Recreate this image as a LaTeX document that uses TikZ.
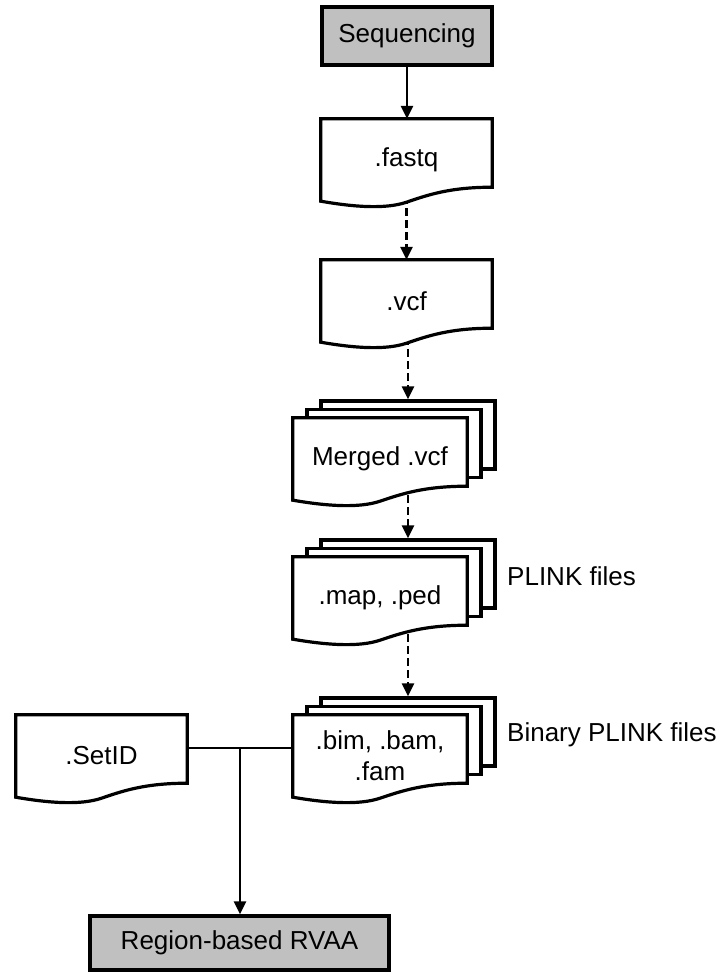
\documentclass[tikz,border=0pt]{standalone}
\usepackage{fontspec}
\setmainfont{Liberation Sans}
\usetikzlibrary{arrows.meta,calc}
\definecolor{boxgray}{RGB}{192,192,192}
\pgfdeclarelayer{conns}
\pgfdeclarelayer{shapes}
\pgfsetlayers{conns,shapes,main}
\tikzset{
  base/.style={font=\fontsize{26}{31}\selectfont, align=center, inner sep=0pt},
  procbox/.style={base, draw, line width=3.2pt, fill=boxgray, minimum height=58pt},
  doctext/.style={base, minimum width=171pt, minimum height=82pt},
  stacktext/.style={base, minimum width=174pt, minimum height=82pt},
  layerbox/.style={draw, line width=3.2pt, fill=white, minimum width=174pt, minimum height=68pt, inner sep=0pt},
  docline/.style={draw, line width=3.2pt, fill=white, line join=miter},
  plainline/.style={line width=2.6pt},
  conn/.style={plainline, -{Triangle[length=13pt,width=12pt]}},
  dconn/.style={conn, dash pattern=on 7.5pt off 4.5pt},
  sidelabel/.style={base, anchor=west},
}
\newcommand\docpath[1]{%
  \path[docline] (#1.north west) -- (#1.north east) -- ($(#1.south east)+(0,-14)$)
    .. controls ($(#1.south west)!0.75!(#1.south east)+(0,-14)$) and ($(#1.south west)!0.62!(#1.south east)+(0,-6)$) .. ($(#1.south west)!0.5!(#1.south east)+(0,1)$)
    .. controls ($(#1.south west)!0.38!(#1.south east)+(0,8)$) and ($(#1.south west)!0.2!(#1.south east)+(0,6)$) .. (#1.south west) -- cycle;}
\newcommand\singledoc[1]{\begin{pgfonlayer}{shapes}\docpath{#1}\end{pgfonlayer}}
\newcommand\stackdoc[1]{%
  \begin{pgfonlayer}{shapes}
    \node[layerbox] (#1B) at ($(#1)+(28,-24)$) {};
    \node[layerbox] (#1M) at ($(#1)+(14,-15.5)$) {};
    \docpath{#1}
  \end{pgfonlayer}}
\begin{document}
\begin{tikzpicture}[x=1pt,y=-1pt]
\useasboundingbox (0,0) rectangle (724,972);

\node[procbox, minimum width=170pt] (seq) at (407,36) {Sequencing};

\node[doctext] (fastq) at (406.5,160) {.fastq};
\singledoc{fastq}

\node[doctext] (vcf) at (406.5,301) {.vcf};
\singledoc{vcf}

\node[stacktext] (merged) at (380,459) {Merged .vcf};
\stackdoc{merged}

\node[stacktext] (plink) at (380,598) {.map, .ped};
\stackdoc{plink}
\node[sidelabel] (plinklab) at (507,576) {PLINK files};

\node[stacktext] (bim) at (380,756) {.bim, .bam,\\.fam};
\stackdoc{bim}
\node[sidelabel] (binlab) at (507,735) {Binary PLINK files};

\node[doctext] (setid) at (101.5,756) {.SetID};
\singledoc{setid}

\node[procbox, minimum width=299pt, minimum height=54pt] (rvaa) at (239.5,943) {Region-based RVAA};

\coordinate (j) at (240,748);

\begin{pgfonlayer}{conns}
  \draw[conn] (seq.south) -- (seq.south |- fastq.north);
  \draw[dconn] (fastq.center) -- (vcf.north);
  \draw[dconn] (mergedB.north |- vcf.center) -- (mergedB.north);
  \draw[dconn] (plinkB.north |- merged.center) -- (plinkB.north);
  \draw[dconn] (bimB.north |- plink.center) -- (bimB.north);
  \draw[plainline] (setid.east |- j) -- (bim.west |- j);
  \draw[conn] (j) -- (j |- rvaa.north);
\end{pgfonlayer}
\end{tikzpicture}
\end{document}
